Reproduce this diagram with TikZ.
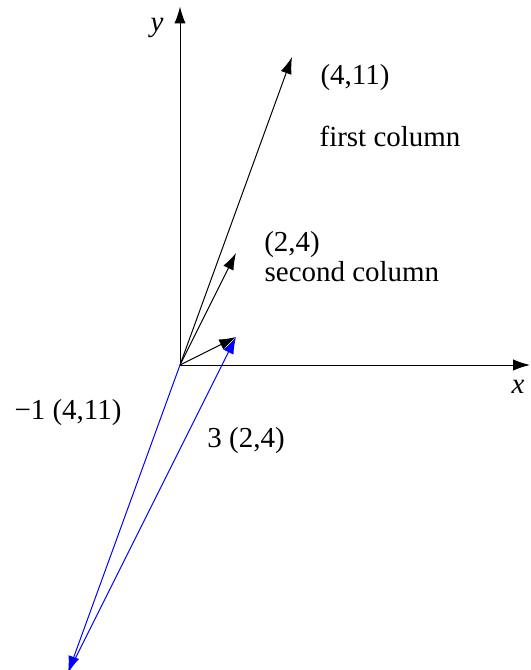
\documentclass[tikz,border=0pt]{standalone}
\usepackage{fontspec}
\setmainfont{Liberation Serif}
\usetikzlibrary{arrows.meta}
\begin{document}
\begin{tikzpicture}[x=0.7cm,y=0.7cm,
    vec/.style={line width=0.7pt,-{Latex[length=12pt,width=8pt]}},
    bluevec/.style={vec,color=blue},
    lbl/.style={font=\fontsize{20.6}{24}\selectfont,inner sep=0pt}]
  \useasboundingbox (-6.4286,-10.893) rectangle (12.536,13.036);

  % axes
  \coordinate (O) at (0,0);
  \coordinate (xend) at (12.5,0);
  \coordinate (yend) at (0,12.8);
  \draw[vec] (O) -- (xend);
  \draw[vec] (O) -- (yend);
  \node[lbl] (xlbl) at (12.07,-0.79) {\textit{x}};
  \node[lbl] (ylbl) at (-0.82,12.04) {\textit{y}};

  % columns and the combination
  \coordinate (A) at (4,11);
  \coordinate (B) at (2,4);
  \coordinate (C) at (2,1);
  \coordinate (D) at (-4,-11);
  \draw[vec] (O) -- (A);
  \draw[vec] (O) -- (B);
  \draw[vec] (O) -- (C);
  \draw[bluevec] (O) -- (D);
  \draw[bluevec] (D) -- (C);

  % labels
  \node[lbl] (albl) at (6.25,10.25) {(4,11)};
  \node[lbl] (afirst) at (7.5,8.18) {first column};
  \node[lbl] (blbl) at (4.0,4.29) {(2,4)};
  \node[lbl] (bsecond) at (6.14,3.32) {second column};
  \node[lbl] (dlbl) at (-4.0,-1.71) {−1 (4,11)};
  \node[lbl] (clbl) at (2.36,-2.71) {3 (2,4)};
\end{tikzpicture}
\end{document}
